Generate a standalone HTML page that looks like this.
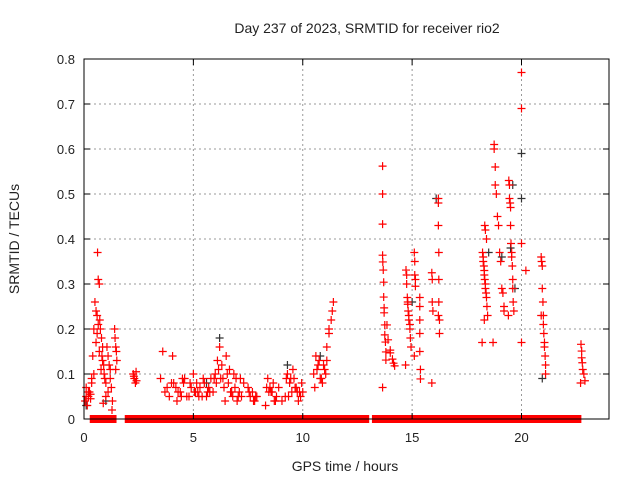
<!DOCTYPE html>
<html><head><meta charset="utf-8"><style>
body{margin:0;background:#fff}
svg text{font-family:"Liberation Sans",sans-serif;fill:#222}
</style></head><body>
<svg id="chart" width="640" height="480">
<rect width="640" height="480" fill="#fff"/>
<g id="grid"></g>
<g id="zeros"></g>
<g id="pts"></g>
<rect x="84" y="59" width="525" height="360" fill="none" stroke="#000" stroke-width="1"/>
<g id="ticks"></g>
<text x="367" y="33" font-size="14" text-anchor="middle">Day 237 of 2023, SRMTID for receiver rio2</text>
<text x="345" y="471" font-size="14" text-anchor="middle">GPS time / hours</text>
<text transform="translate(19,239) rotate(-90)" font-size="14" text-anchor="middle">SRMTID / TECUs</text>
</svg>
<script>
const xTicks=[0,5,10,15,20];
const yTicks=[0,0.1,0.2,0.3,0.4,0.5,0.6,0.7,0.8];
const yTickLabels=["0","0.1","0.2","0.3","0.4","0.5","0.6","0.7","0.8"];
const redX=[0.05,0.1,0.15,0.2,0.25,0.3,0.35,0.4,0.45,0.5,0.55,0.6,0.62,0.65,0.7,0.72,0.75,0.8,0.85,0.9,0.95,1.0,0.78,0.82,0.88,0.92,1.05,1.1,1.15,1.2,1.25,1.28,1.4,1.42,1.45,1.48,1.5,1.45,
0.1,0.2,0.3,0.35,0.45,0.55,0.6,0.65,0.7,0.85,1.0,1.1,1.2,1.3,
2.25,2.3,2.35,2.4,2.28,2.38,3.5,3.7,3.9,4.0,4.2,4.4,4.6,4.8,4.9,5.0,5.2,5.4,5.5,5.7,5.8,5.9,6.0,6.1,6.2,6.3,6.35,6.5,6.6,6.7,6.8,6.9,7.0,7.1,7.2,7.5,7.6,7.7,7.8,7.9,8.3,8.4,8.5,8.6,8.7,8.8,9.2,9.3,9.4,9.5,9.6,9.7,9.8,9.9,10.0,10.5,10.6,10.7,10.8,10.9,11.0,11.1,11.2,11.3,11.35,11.4,11.1,11.2,
3.6,3.8,4.1,4.3,4.5,4.7,4.85,5.1,5.3,5.6,5.75,5.95,6.05,6.15,6.25,6.4,6.55,6.75,6.95,7.05,7.3,7.55,7.75,7.85,8.35,8.45,8.65,8.75,8.9,9.25,9.35,9.45,9.55,9.65,9.85,9.95,10.55,10.65,10.75,10.85,10.95,11.05,
4.05,4.25,4.45,4.55,5.05,5.15,5.25,5.45,5.65,6.45,6.65,6.85,7.15,8.55,9.05,9.75,
13.65,13.65,13.65,13.65,13.65,13.66,13.68,13.7,13.7,13.72,13.72,13.75,13.75,13.78,13.8,13.8,13.85,13.9,14.0,14.0,14.1,14.15,14.2,
14.7,14.72,14.75,14.75,14.78,14.8,14.8,14.82,14.85,14.85,14.9,14.9,14.92,14.95,15.1,15.1,15.12,15.12,15.15,15.15,15.35,15.35,15.35,15.35,15.35,15.38,15.38,
15.9,15.9,15.92,15.92,15.95,16.2,16.2,16.2,16.2,16.22,16.22,16.22,16.25,16.25,
18.2,18.22,18.25,18.25,18.28,18.3,18.3,18.32,18.35,18.35,18.38,18.4,18.42,18.45,18.3,18.32,18.35,18.4,
18.7,18.75,18.75,18.8,18.8,18.85,18.9,18.95,19.0,19.05,19.1,19.15,19.2,19.2,
19.4,19.42,19.45,19.45,19.48,19.5,19.5,19.52,19.55,19.55,19.58,19.6,19.6,19.62,19.65,
20.0,20.0,20.0,20.0,20.2,
20.9,20.9,20.92,20.95,20.95,20.98,21.0,21.0,21.02,21.05,21.05,21.08,21.1,21.1,
22.7,22.72,22.75,22.75,22.78,22.8,22.85,22.9];
const redY=[0.04,0.07,0.03,0.05,0.06,0.045,0.09,0.14,0.2,0.26,0.24,0.23,0.37,0.31,0.3,0.22,0.2,0.18,0.16,0.12,0.09,0.05,0.11,0.14,0.035,0.1,0.16,0.14,0.12,0.11,0.07,0.02,0.2,0.18,0.16,0.15,0.13,0.11,
0.05,0.06,0.055,0.08,0.1,0.17,0.19,0.21,0.15,0.13,0.08,0.06,0.09,0.04,
0.1,0.09,0.08,0.085,0.095,0.105,0.09,0.06,0.05,0.08,0.07,0.06,0.09,0.05,0.07,0.1,0.06,0.05,0.08,0.07,0.09,0.06,0.1,0.13,0.16,0.12,0.09,0.14,0.08,0.06,0.05,0.07,0.04,0.06,0.05,0.07,0.05,0.06,0.04,0.05,0.03,0.09,0.07,0.06,0.04,0.05,0.05,0.1,0.08,0.06,0.09,0.07,0.04,0.05,0.06,0.1,0.14,0.12,0.09,0.08,0.11,0.13,0.2,0.22,0.24,0.26,0.16,0.19,0.15,
0.07,0.08,0.06,0.09,0.05,0.08,0.06,0.07,0.05,0.06,0.09,0.08,0.11,0.09,0.07,0.1,0.06,0.09,0.05,0.08,0.06,0.04,0.05,0.07,0.06,0.08,0.04,0.07,0.09,0.05,0.09,0.11,0.07,0.06,0.08,0.07,0.11,0.13,0.09,0.12,0.1,0.14,
0.04,0.05,0.08,0.06,0.08,0.05,0.09,0.06,0.04,0.11,0.1,0.09,0.06,0.04,0.06,0.07,
0.562,0.5,0.433,0.364,0.349,0.331,0.304,0.271,0.247,0.236,0.209,0.187,0.171,0.149,0.131,0.209,0.176,0.153,0.147,0.133,0.124,0.118,0.12,
0.331,0.32,0.3,0.27,0.26,0.255,0.24,0.23,0.22,0.21,0.2,0.18,0.16,0.14,0.37,0.35,0.32,0.31,0.295,0.27,0.25,0.22,0.19,0.15,0.11,0.089,0.08,
0.325,0.31,0.26,0.24,0.23,0.49,0.48,0.43,0.37,0.31,0.26,0.22,0.19,0.17,
0.37,0.36,0.35,0.34,0.33,0.32,0.31,0.3,0.29,0.28,0.27,0.25,0.23,0.22,0.43,0.42,0.4,0.17,
0.61,0.6,0.56,0.52,0.5,0.45,0.43,0.37,0.35,0.29,0.28,0.25,0.24,0.23,
0.53,0.52,0.49,0.48,0.47,0.43,0.39,0.37,0.36,0.34,0.31,0.29,0.26,0.24,0.17,
0.77,0.69,0.39,0.33,0.23,
0.36,0.35,0.34,0.29,0.26,0.23,0.21,0.19,0.17,0.16,0.14,0.12,0.1,0.08,
0.166,0.151,0.136,0.125,0.11,0.1,0.085,0.07];
const blackX=[1.0,5.6,6.2,9.3,10.8,15.0,16.1,18.5,19.1,19.5,19.6,19.7,20.0,20.0,20.95,0.1];
const blackY=[0.04,0.08,0.18,0.12,0.14,0.26,0.49,0.37,0.36,0.38,0.52,0.29,0.59,0.49,0.09,0.03];
const zeroStart=[0.4,0.55,0.75,0.95,1.15,1.3,2.0,10.5,13.3,14.5,15.2,16.4,17.0,19.8,20.6];
const zeroEnd=[0.45,0.6,0.8,1.0,1.2,1.35,10.3,12.9,14.3,15.0,16.2,16.9,19.6,20.4,22.6];
const NS="http://www.w3.org/2000/svg";
const X=v=>84+v*525/24, Y=v=>419-v*450;
function mk(tag,attrs,parent){const e=document.createElementNS(NS,tag);for(const k in attrs)e.setAttribute(k,attrs[k]);parent.appendChild(e);return e;}
const grid=document.getElementById('grid'),ticks=document.getElementById('ticks');
xTicks.forEach((t,i)=>{
  const x=X(t);
  if(t>0){const g=mk('line',{x1:x,x2:x,y1:59,y2:419,stroke:'#999','stroke-dasharray':'2,3'},grid);
  
  }
  const a=mk('line',{x1:x,x2:x,y1:419,y2:413,stroke:'#000'},ticks);
  
  
  const b=mk('line',{x1:x,x2:x,y1:59,y2:65,stroke:'#000'},ticks);
  
  
  const l=mk('text',{x:x,y:442,'font-size':13,'text-anchor':'middle'},ticks);l.textContent=String(t);
  
  
});
yTicks.forEach((t,i)=>{
  const y=Y(t);
  if(t>0&&t<0.8){const g=mk('line',{x1:84,x2:609,y1:y,y2:y,stroke:'#999','stroke-dasharray':'2,3'},grid);
  
  }
  const a=mk('line',{x1:84,x2:90,y1:y,y2:y,stroke:'#000'},ticks);
  
  
  const b=mk('line',{x1:603,x2:609,y1:y,y2:y,stroke:'#000'},ticks);
  
  
  const l=mk('text',{x:75,y:y+5,'font-size':13,'text-anchor':'end'},ticks);l.textContent=yTickLabels[i];
  
  
});
const zg=document.getElementById('zeros');
zeroStart.forEach((s,i)=>{
  const r=mk('rect',{x:X(s)-3,y:415,width:X(zeroEnd[i])-X(s)+6,height:8,fill:'#f00'},zg);
  
  
});
const pg=document.getElementById('pts');
function plus(x,y,c,name){
  const p=mk('path',{d:`M${X(x)-4},${Y(y)}h8M${X(x)},${Y(y)-4}v8`,stroke:c,'stroke-width':1.2,fill:'none'},pg);
  
  
}
blackX.forEach((x,i)=>plus(x,blackY[i],'#333','black-point'));
redX.forEach((x,i)=>plus(x,redY[i],'#f00','red-point'));
</script>
</body></html>
